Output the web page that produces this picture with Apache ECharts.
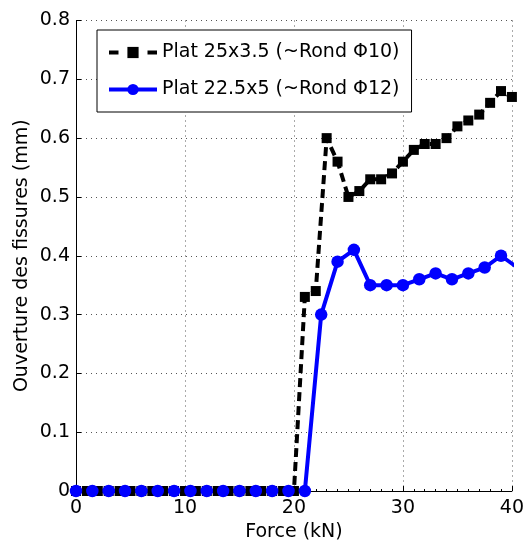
<!DOCTYPE html>
<html>
<head>
<meta charset="utf-8">
<script src="https://cdn.jsdelivr.net/npm/echarts@6/dist/echarts.min.js"></script>
<style>
html,body{margin:0;padding:0;background:#fff;}
#c{width:527px;height:547px;}
</style>
</head>
<body>
<div id="c"></div>
<script>
// ---- data ----
var seriesNames = ['Plat 25x3.5 (~Rond \u03A610)', 'Plat 22.5x5 (~Rond \u03A612)'];
var blackForce = [0,1,2,3,4,5,6,7,8,9,10,11,12,13,14,15,16,17,18,19,20,21,22,23,24,25,26,27,28,29,30,31,32,33,34,35,36,37,38,39,40];
var blackOpen  = [0,0,0,0,0,0,0,0,0,0,0,0,0,0,0,0,0,0,0,0,0,0.33,0.34,0.60,0.56,0.50,0.51,0.53,0.53,0.54,0.56,0.58,0.59,0.59,0.60,0.62,0.63,0.64,0.66,0.68,0.67];
var blueForce  = [0,1.5,3,4.5,6,7.5,9,10.5,12,13.5,15,16.5,18,19.5,21,22.5,24,25.5,27,28.5,30,31.5,33,34.5,36,37.5,39,40.5];
var blueOpen   = [0,0,0,0,0,0,0,0,0,0,0,0,0,0,0,0.30,0.39,0.41,0.35,0.35,0.35,0.36,0.37,0.36,0.37,0.38,0.40,0.38];
var xTicks = [0,10,20,30,40];
var yTicks = ['0','0.1','0.2','0.3','0.4','0.5','0.6','0.7','0.8'];
var xTitle = 'Force (kN)';
var yTitle = 'Ouverture des fissures (mm)';

function pairs(xs, ys){ var o=[]; for(var i=0;i<xs.length;i++){o.push([xs[i],ys[i]]);} return o; }

var FONT = 'DejaVu Sans';
var chart = echarts.init(document.getElementById('c'), null, {renderer:'canvas'});
chart.setOption({
  animation:false,
  backgroundColor:'#fff',
  textStyle:{fontFamily:FONT},
  grid:{left:76, right:14, top:20.5, bottom:53, containLabel:false},
  legend:{
    left:97, top:30, orient:'vertical',
    backgroundColor:'#fff', borderColor:'#000', borderWidth:1,
    padding:[13,12,13,10], itemGap:18, itemWidth:48, itemHeight:14,
    textStyle:{fontFamily:FONT, fontSize:19, color:'#000'},
    data:[
      {name:seriesNames[0], lineStyle:{type:[9.5,29], width:4, color:'#000'}},
      {name:seriesNames[1], lineStyle:{width:4, color:'#0000ff'}}
    ]
  },
  xAxis:{
    type:'value', min:0, max:40, interval:10,
    name:xTitle, nameLocation:'middle', nameGap:32, nameMoveOverlap:false,
    nameTextStyle:{fontFamily:FONT, fontSize:19, color:'#000'},
    axisLine:{show:true, onZero:false, lineStyle:{color:'#000', width:1}},
    axisTick:{show:true, inside:true, length:5, lineStyle:{color:'#000'}},
    minorTick:{show:true, splitNumber:10, length:2, lineStyle:{color:'#000'}},
    axisLabel:{fontFamily:FONT, fontSize:19, color:'#000', margin:8,
      formatter:function(v){ var i = xTicks.indexOf(v); return i>=0 ? String(xTicks[i]) : ''; }},
    splitLine:{show:true, lineStyle:{color:'#555', width:1, type:[1,4]}}
  },
  yAxis:{
    type:'value', min:0, max:0.8, interval:0.1,
    name:yTitle, nameLocation:'middle', nameGap:44, nameRotate:90, nameMoveOverlap:false,
    nameTextStyle:{fontFamily:FONT, fontSize:19, color:'#000'},
    axisLine:{show:true, onZero:false, lineStyle:{color:'#000', width:1}},
    axisTick:{show:true, inside:true, length:5, lineStyle:{color:'#000'}},
    axisLabel:{fontFamily:FONT, fontSize:19, color:'#000', margin:6,
      formatter:function(v){ var i = Math.round(v*10); return yTicks[i]; }},
    splitLine:{show:true, lineStyle:{color:'#555', width:1, type:[1,4]}}
  },
  series:[
    {
      name:seriesNames[0], type:'line', data:pairs(blackForce, blackOpen),
      symbol:'rect', symbolSize:10, clip:true,
      lineStyle:{color:'#000', width:4, type:[9,5]},
      itemStyle:{color:'#000'}
    },
    {
      name:seriesNames[1], type:'line', data:pairs(blueForce, blueOpen),
      symbol:'circle', symbolSize:12.5, clip:true,
      lineStyle:{color:'#0000ff', width:4},
      itemStyle:{color:'#0000ff'}
    }
  ]
});
</script>
</body>
</html>
